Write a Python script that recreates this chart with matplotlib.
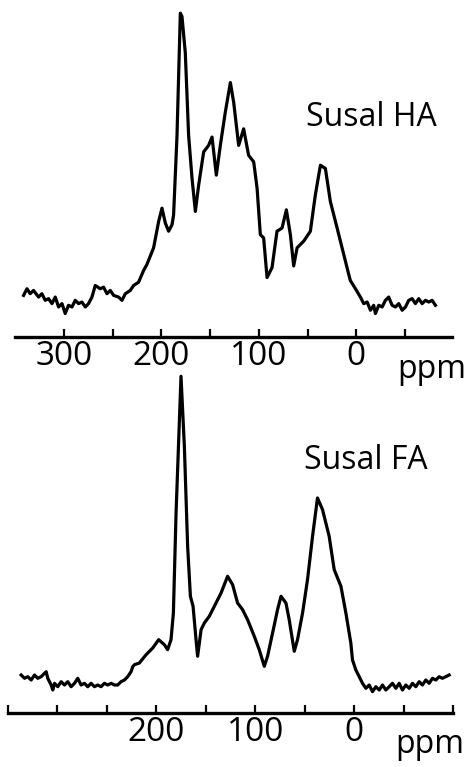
import matplotlib
matplotlib.use("Agg")
from matplotlib import pyplot as plt

plt.rcParams['font.family'] = ['Open Sans', 'DejaVu Sans']

# Susal HA spectrum (ppm, intensity in arbitrary units)
ha_ppm = [341.2, 337.7, 334.4, 331.0, 325.8, 322.4, 319.0, 315.6, 312.1, 308.7,
          305.3, 301.8, 298.5, 295.1, 291.6, 288.2, 284.8, 281.4, 277.9, 274.6,
          271.1, 267.7, 262.6, 259.2, 255.7, 252.3, 248.9, 243.8, 240.3, 236.9,
          231.8, 228.4, 223.3, 218.2, 214.7, 207.9,
          202.7, 199.3, 195.9, 192.5, 189.0, 187.4, 183.9, 180.5, 178.8, 175.4,
          172.0, 168.5, 165.1, 161.7, 156.6, 151.5, 148.0, 143.6, 139.5, 134.4,
          129.2, 125.8, 120.7, 115.6, 110.5, 105.3, 101.8, 98.5, 95.1, 91.6,
          86.5, 81.4, 76.2, 71.8, 67.7, 64.3, 60.8, 54.0, 47.2, 42.1,
          36.9, 31.8, 26.7, 19.8, 14.7, 7.9,
          6.2, 1.0, -4.1, -7.5, -11.0, -14.4, -17.7, -19.5, -22.9, -26.4,
          -29.7, -33.1, -36.6, -40.0, -43.4, -46.9, -50.3, -53.6, -57.1, -60.5,
          -63.9, -67.4, -70.8, -74.2, -77.6, -81.0]
ha_int = [42.0, 48.7, 43.7, 47.0, 40.3, 43.7, 37.0, 38.7, 33.7, 40.3,
          30.3, 33.7, 23.7, 32.0, 30.3, 37.0, 33.7, 35.3, 30.3, 33.7,
          40.3, 52.0, 48.7, 50.3, 43.7, 47.0, 42.0, 40.3, 37.0, 43.7,
          47.0, 52.0, 55.3, 67.0, 73.3, 90.0,
          116.7, 130.0, 115.0, 106.7, 113.3, 123.3, 203.3, 326.7, 323.3, 286.7,
          203.3, 160.0, 126.7, 153.3, 186.7, 193.3, 201.7, 163.3, 193.3, 226.7,
          256.7, 236.7, 193.3, 210.0, 183.3, 176.7, 150.0, 103.3, 100.0, 60.0,
          70.0, 106.7, 110.0, 128.3, 103.3, 71.7, 90.0, 96.7, 106.7, 143.3,
          173.3, 170.0, 136.7, 110.0, 90.0, 63.3,
          57.0, 48.7, 40.3, 33.7, 35.3, 27.0, 32.0, 23.7, 32.0, 30.3,
          37.0, 40.3, 32.0, 30.3, 33.7, 27.0, 30.3, 37.0, 38.7, 33.7,
          38.7, 33.7, 37.0, 35.3, 37.0, 32.0]

# Susal FA spectrum
fa_ppm = [336.7, 333.3, 330.0, 326.6, 323.2, 319.9, 316.5, 313.1, 311.4, 309.8,
          306.4, 304.7, 303.0, 299.7, 296.3, 292.9, 289.6, 286.2, 282.8, 279.5,
          276.1, 272.7, 269.4, 266.0, 262.6, 259.3, 255.9, 252.5, 249.2, 245.8,
          242.4, 239.1, 235.7, 232.3, 229.0, 225.6, 223.9,
          222.2, 217.2, 210.4, 203.7, 197.7, 191.9, 188.6, 185.2, 182.8, 180.1,
          175.1, 171.7, 168.4, 165.6, 162.9, 159.9, 158.3, 154.8, 151.5, 146.5,
          139.7, 134.6, 128.0, 122.9, 117.9, 112.8, 107.8, 101.0, 96.0, 90.9,
          87.6, 82.5, 77.5, 74.0, 69.0, 65.7, 60.6, 57.3, 52.2, 47.2,
          42.1, 37.1, 32.0, 25.3, 20.2, 13.4, 8.4, 3.4,
          1.7, -1.7, -5.1, -8.4, -11.8, -15.2, -18.5, -21.9, -25.3, -28.6,
          -32.0, -35.4, -38.7, -42.1, -45.5, -48.8, -52.2, -55.6, -58.9, -62.3,
          -65.7, -69.0, -72.4, -75.8, -79.1, -82.5, -85.9, -89.2, -92.6, -96.0]
fa_int = [38.0, 34.7, 36.3, 33.0, 38.0, 34.7, 36.3, 39.7, 41.3, 34.7,
          28.0, 23.0, 29.7, 26.3, 31.3, 28.0, 31.3, 26.3, 29.7, 34.7,
          28.0, 29.7, 26.3, 29.7, 26.3, 28.0, 26.3, 29.7, 28.0, 29.7,
          28.0, 28.0, 31.3, 33.0, 36.3, 41.3, 46.3,
          48.3, 50.0, 58.3, 65.0, 73.3, 68.3, 63.3, 73.3, 100.0, 200.0,
          336.7, 266.7, 166.7, 116.7, 106.7, 73.3, 56.7, 83.3, 90.0, 96.7,
          110.0, 120.0, 136.7, 128.3, 110.0, 103.3, 93.3, 76.7, 63.3, 46.7,
          56.7, 80.0, 103.3, 116.7, 110.0, 93.3, 61.7, 73.3, 100.0, 133.3,
          176.7, 215.0, 203.3, 176.7, 143.3, 126.7, 100.0, 70.0,
          53.0, 43.0, 36.3, 29.7, 24.7, 28.0, 21.3, 26.3, 23.0, 28.0,
          23.0, 26.3, 29.7, 24.7, 29.7, 23.0, 28.0, 24.7, 29.7, 26.3,
          31.3, 28.0, 33.0, 29.7, 34.7, 33.0, 36.3, 34.7, 36.3, 38.0]

ha_ticks = [300, 250, 200, 150, 100, 50, 0, -50]
ha_labels = ['300', '', '200', '', '100', '', '0', '']
fa_ticks = [350, 300, 250, 200, 150, 100, 50, 0, -50, -100]
fa_labels = ['', '', '', '200', '', '100', '', '0', '', '']

fig = plt.figure(figsize=(4.74, 7.67), dpi=100)
ax1 = fig.add_axes([0.0316, 0.5606, 0.922, 0.433])
ax2 = fig.add_axes([0.0169, 0.0704, 0.939, 0.4368])


def style(ax, xlim, ticks, labels):
    ax.patch.set_visible(False)
    ax.set_xlim(*xlim)
    ax.set_ylim(0, 335)
    for s in ['top', 'left', 'right']:
        ax.spines[s].set_visible(False)
    ax.spines['bottom'].set_linewidth(2.4)
    ax.set_yticks([])
    ax.set_xticks(ticks)
    ax.set_xticklabels(labels)
    ax.tick_params(axis='x', direction='in', length=6, width=1.6,
                   labelsize=24, pad=2, colors='black')


ax1.plot(ha_ppm, ha_int, color='black', lw=2.3, clip_on=False)
style(ax1, (350, -98), ha_ticks, ha_labels)
ax1.text(52, 213, 'Susal HA', fontsize=23, ha='left', va='baseline')
ax1.text(-42, -41, 'ppm', fontsize=23, ha='left', va='baseline', clip_on=False)

ax2.plot(fa_ppm, fa_int, color='black', lw=2.3, clip_on=False)
style(ax2, (350, -99), fa_ticks, fa_labels)
ax2.text(50.5, 244, 'Susal FA', fontsize=23, ha='left', va='baseline')
ax2.text(-42, -40, 'ppm', fontsize=23, ha='left', va='baseline', clip_on=False)

fig.savefig('out.png', dpi=100)
